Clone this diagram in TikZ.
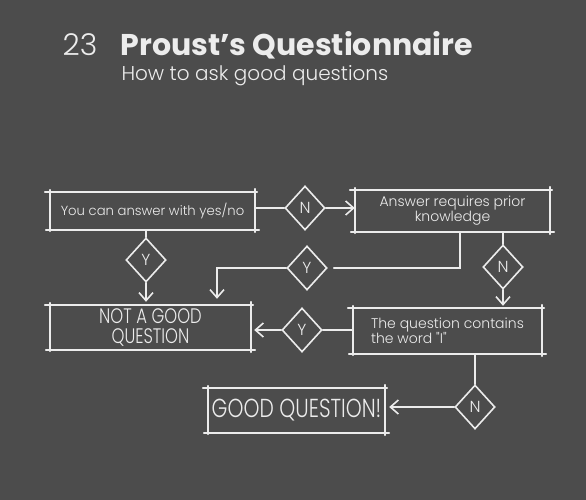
\documentclass[tikz,border=0pt]{standalone}
\usepackage{fontspec}
\setmainfont{Poppins}
\newfontfamily\thinfont{Poppins Light}
\newfontfamily\tallfont{Poppins Light}[FakeStretch=0.78]
\usetikzlibrary{shapes.geometric,arrows.meta,positioning}
\definecolor{board}{RGB}{76,76,76}
\definecolor{chalk}{RGB}{236,236,236}

\begin{document}
\begin{tikzpicture}[x=1pt,y=-1pt,
  chalkline/.style={draw=chalk, line width=1.6pt, line cap=round},
  box/.style={inner sep=0pt, align=center, text=chalk, font=\thinfont\fontsize{14}{15}\selectfont},
  choice/.style={diamond, draw=chalk, line width=1.6pt, minimum width=40pt, minimum height=44pt, inner sep=0pt, text=chalk, font=\thinfont\fontsize{16}{16}\selectfont},
  flow/.style={chalkline, -{Straight Barb[length=8pt,width=14pt]}},
]
  % Board
  \fill[board] (0,0) rectangle (586,500);
  \useasboundingbox (0,0) rectangle (586,500);

  % Heading
  \node[text=chalk, font=\thinfont\fontsize{30}{30}\selectfont] (num) at (80,45) {23};
  \node[anchor=west, text=chalk, font=\bfseries\fontsize{30}{30}\selectfont] (title) at (117,45) {Proust's Questionnaire};
  \node[anchor=west, text=chalk, font=\thinfont\fontsize{20}{20}\selectfont] (sub) at (118,76) {How to ask good questions};

  % Boxes
  \node[box, minimum width=205pt, minimum height=38pt, font=\thinfont\fontsize{13.2}{15}\selectfont] (yesno) at (152.5,211) {You can answer with yes/no};
  \node[box, minimum width=195pt, minimum height=42pt] (prior) at (452.5,211) {Answer requires prior\\knowledge};
  \node[box, minimum width=201pt, minimum height=45pt, font=\tallfont\fontsize{21}{20}\selectfont] (notgood) at (150.5,327.5) {NOT A GOOD\\QUESTION};
  \node[box, minimum width=189pt, minimum height=46pt, align=left] (contains) at (447.5,331) {The question contains\\the word "I"};
  \node[box, minimum width=177pt, minimum height=45pt, font=\tallfont\fontsize{26}{26}\selectfont] (good) at (296.5,410.5) {GOOD QUESTION!};

  % Chalk outlines with overshooting corners
  \foreach \b in {yesno,prior,notgood,contains,good}{
    \draw[chalkline] ([xshift=-5pt]\b.north west) -- ([xshift=2pt]\b.north east);
    \draw[chalkline] ([xshift=-4pt]\b.south west) -- ([xshift=4pt]\b.south east);
    \draw[chalkline] ([yshift=2pt]\b.north west) -- ([yshift=-1pt]\b.south west);
    \draw[chalkline] ([yshift=3pt]\b.north east) -- ([yshift=-2pt]\b.south east);
  }

  % Decisions
  \node[choice] (n1) at (305,208) {N};
  \node[choice] (y1) at (146,260) {Y};
  \node[choice] (y2) at (307,268) {Y};
  \node[choice] (n2) at (503,267) {N};
  \node[choice] (y3) at (302,330) {Y};
  \node[choice] (n3) at (475,407) {N};

  % Connectors
  \draw[chalkline] (yesno.east |- n1.west) -- (n1.west);
  \draw[flow] (n1.east) -- (prior.west |- n1.east);
  \draw[chalkline] (yesno.south -| y1) -- (y1.north);
  \draw[flow] (y1.south) -- ([yshift=3pt]notgood.north -| y1);
  \draw[chalkline] ([xshift=7.5pt]prior.south) |- ([xshift=6pt]y2.east);
  \draw[flow] (y2.west) -| ([xshift=66.5pt,yshift=6pt]notgood.north);
  \draw[chalkline] (prior.south -| n2) -- (n2.north);
  \draw[flow] (n2.south) -- ([yshift=2pt]contains.north -| n2);
  \draw[chalkline] (contains.west |- y3) -- (y3.east);
  \draw[flow] (y3.west) -- ([xshift=3pt]notgood.east |- y3);
  \draw[chalkline] (contains.south -| n3) -- (n3.north);
  \draw[flow] (n3.west) -- ([xshift=4pt]good.east |- n3);
\end{tikzpicture}
\end{document}
